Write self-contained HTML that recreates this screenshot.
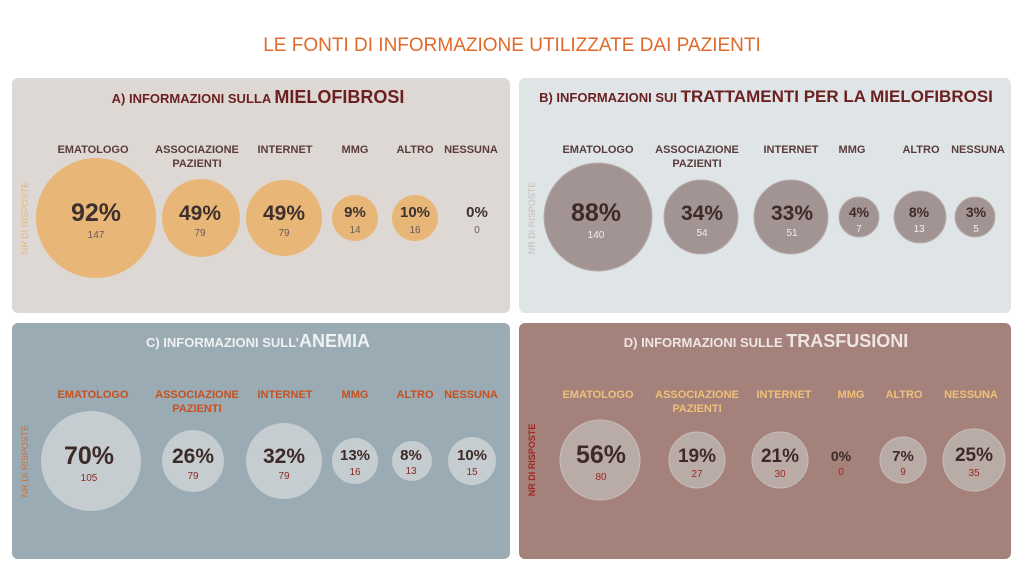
<!DOCTYPE html>
<html><head><meta charset="utf-8"><style>
body{margin:0;background:#fff;width:1024px;height:572px;overflow:hidden}
svg text{font-family:"Liberation Sans",sans-serif;text-anchor:middle}
.l{font-size:11px;font-weight:bold}
.p{font-weight:bold}
</style></head><body>
<svg width="1024" height="572" viewBox="0 0 1024 572">
<text x="512" y="51" font-size="19" fill="#e06a2a">LE FONTI DI INFORMAZIONE UTILIZZATE DAI PAZIENTI</text>

<!-- A -->
<rect x="12" y="78" width="498" height="235" rx="6" fill="#ddd8d4"/>
<text x="258" y="103" fill="#6b1f1f" font-size="13" font-weight="bold">A) INFORMAZIONI SULLA <tspan font-size="18">MIELOFIBROSI</tspan></text>
<g class="l" fill="#5a3c3a">
<text x="93" y="153" class="l">EMATOLOGO</text>
<text x="197" y="153" class="l">ASSOCIAZIONE</text><text x="197" y="167" class="l">PAZIENTI</text>
<text x="285" y="153" class="l">INTERNET</text>
<text x="355" y="153" class="l">MMG</text>
<text x="415" y="153" class="l">ALTRO</text>
<text x="471" y="153" class="l">NESSUNA</text>
</g>
<text transform="translate(28,218) rotate(-90)" font-size="9" fill="#e8b778">NR DI RISPOSTE</text>
<g fill="#e8b778">
<circle cx="96" cy="218" r="60"/><circle cx="201" cy="218" r="39"/><circle cx="284" cy="218" r="38"/>
<circle cx="355" cy="218" r="23"/><circle cx="415" cy="218" r="23"/>
</g>
<g fill="#3e302e">
<text x="96" y="221" font-size="25" class="p">92%</text><text x="96" y="238" font-size="10" fill="#6a5a55">147</text>
<text x="200" y="220" font-size="21" class="p">49%</text><text x="200" y="236" font-size="10" fill="#6a5a55">79</text>
<text x="284" y="220" font-size="21" class="p">49%</text><text x="284" y="236" font-size="10" fill="#6a5a55">79</text>
<text x="355" y="217" font-size="15" class="p">9%</text><text x="355" y="233" font-size="10" fill="#6a5a55">14</text>
<text x="415" y="217" font-size="15" class="p">10%</text><text x="415" y="233" font-size="10" fill="#6a5a55">16</text>
<text x="477" y="217" font-size="15" class="p">0%</text><text x="477" y="233" font-size="10" fill="#6a5a55">0</text>
</g>

<!-- B -->
<rect x="519" y="78" width="492" height="235" rx="6" fill="#dfe5e7"/>
<text x="766" y="102" fill="#6b1f1f" font-size="13" font-weight="bold">B) INFORMAZIONI SUI <tspan font-size="17">TRATTAMENTI PER LA MIELOFIBROSI</tspan></text>
<g fill="#5a3c3a">
<text x="598" y="153" class="l">EMATOLOGO</text>
<text x="697" y="153" class="l">ASSOCIAZIONE</text><text x="697" y="167" class="l">PAZIENTI</text>
<text x="791" y="153" class="l">INTERNET</text>
<text x="852" y="153" class="l">MMG</text>
<text x="921" y="153" class="l">ALTRO</text>
<text x="978" y="153" class="l">NESSUNA</text>
</g>
<text transform="translate(535,218) rotate(-90)" font-size="9" fill="#c9bcb5">NR DI RISPOSTE</text>
<g fill="#a19493" stroke="#b9adab" stroke-width="1">
<circle cx="598" cy="217" r="54"/><circle cx="701" cy="217" r="37"/><circle cx="791" cy="217" r="37"/>
<circle cx="859" cy="217" r="20"/><circle cx="920" cy="217" r="26"/><circle cx="975" cy="217" r="20"/>
</g>
<g fill="#3e2a28">
<text x="596" y="221" font-size="25" class="p">88%</text><text x="596" y="238" font-size="10" fill="#eee">140</text>
<text x="702" y="220" font-size="21" class="p">34%</text><text x="702" y="236" font-size="10" fill="#eee">54</text>
<text x="792" y="220" font-size="21" class="p">33%</text><text x="792" y="236" font-size="10" fill="#eee">51</text>
<text x="859" y="217" font-size="14" class="p">4%</text><text x="859" y="232" font-size="10" fill="#eee">7</text>
<text x="919" y="217" font-size="14" class="p">8%</text><text x="919" y="232" font-size="10" fill="#eee">13</text>
<text x="976" y="217" font-size="14" class="p">3%</text><text x="976" y="232" font-size="10" fill="#eee">5</text>
</g>

<!-- C -->
<rect x="12" y="323" width="498" height="236" rx="6" fill="#9aabb4"/>
<text x="258" y="347" fill="#eef1f2" font-size="13" font-weight="bold">C) INFORMAZIONI SULL’<tspan font-size="18">ANEMIA</tspan></text>
<g fill="#c8501f">
<text x="93" y="398" class="l">EMATOLOGO</text>
<text x="197" y="398" class="l">ASSOCIAZIONE</text><text x="197" y="412" class="l">PAZIENTI</text>
<text x="285" y="398" class="l">INTERNET</text>
<text x="355" y="398" class="l">MMG</text>
<text x="415" y="398" class="l">ALTRO</text>
<text x="471" y="398" class="l">NESSUNA</text>
</g>
<text transform="translate(28,461) rotate(-90)" font-size="9" fill="#d0703a">NR DI RISPOSTE</text>
<g fill="#c5cdd1">
<circle cx="91" cy="461" r="50"/><circle cx="193" cy="461" r="31"/><circle cx="284" cy="461" r="38"/>
<circle cx="355" cy="461" r="23"/><circle cx="412" cy="461" r="20"/><circle cx="472" cy="461" r="24"/>
</g>
<g fill="#3e2a28">
<text x="89" y="464" font-size="25" class="p">70%</text><text x="89" y="481" font-size="10" fill="#8a2a20">105</text>
<text x="193" y="463" font-size="21" class="p">26%</text><text x="193" y="479" font-size="10" fill="#8a2a20">79</text>
<text x="284" y="463" font-size="21" class="p">32%</text><text x="284" y="479" font-size="10" fill="#8a2a20">79</text>
<text x="355" y="460" font-size="15" class="p">13%</text><text x="355" y="475" font-size="10" fill="#8a2a20">16</text>
<text x="411" y="460" font-size="15" class="p">8%</text><text x="411" y="474" font-size="10" fill="#8a2a20">13</text>
<text x="472" y="460" font-size="15" class="p">10%</text><text x="472" y="475" font-size="10" fill="#8a2a20">15</text>
</g>

<!-- D -->
<rect x="519" y="323" width="492" height="236" rx="6" fill="#a5817c"/>
<text x="766" y="347" fill="#eee6e3" font-size="13" font-weight="bold">D) INFORMAZIONI SULLE <tspan font-size="18">TRASFUSIONI</tspan></text>
<g fill="#f0c078">
<text x="598" y="398" class="l">EMATOLOGO</text>
<text x="697" y="398" class="l">ASSOCIAZIONE</text><text x="697" y="412" class="l">PAZIENTI</text>
<text x="784" y="398" class="l">INTERNET</text>
<text x="851" y="398" class="l">MMG</text>
<text x="904" y="398" class="l">ALTRO</text>
<text x="971" y="398" class="l">NESSUNA</text>
</g>
<text transform="translate(535,460) rotate(-90)" font-size="9" font-weight="bold" fill="#a02820">NR DI RISPOSTE</text>
<g fill="#b9aca7" stroke="#c9bdb8" stroke-width="1">
<circle cx="600" cy="460" r="40"/><circle cx="697" cy="460" r="28"/><circle cx="780" cy="460" r="28"/>
<circle cx="903" cy="460" r="23"/><circle cx="974" cy="460" r="31"/>
</g>
<g fill="#3e2a28">
<text x="601" y="463" font-size="25" class="p">56%</text><text x="601" y="480" font-size="10" fill="#a02820">80</text>
<text x="697" y="462" font-size="19" class="p">19%</text><text x="697" y="477" font-size="10" fill="#a02820">27</text>
<text x="780" y="462" font-size="19" class="p">21%</text><text x="780" y="477" font-size="10" fill="#a02820">30</text>
<text x="841" y="461" font-size="14" class="p">0%</text><text x="841" y="475" font-size="10" fill="#a02820">0</text>
<text x="903" y="461" font-size="15" class="p">7%</text><text x="903" y="475" font-size="10" fill="#a02820">9</text>
<text x="974" y="461" font-size="19" class="p">25%</text><text x="974" y="476" font-size="10" fill="#a02820">35</text>
</g>
</svg>
</body></html>
